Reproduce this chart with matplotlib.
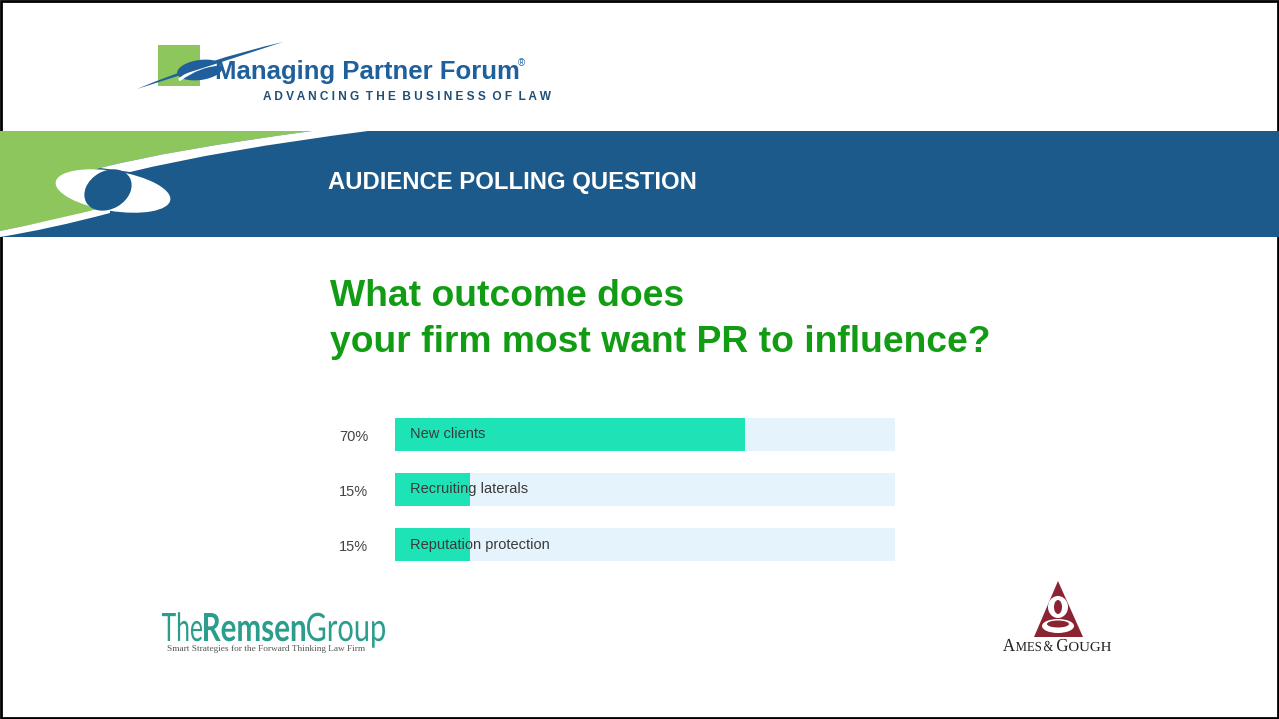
import matplotlib.pyplot as plt
from matplotlib.patches import Rectangle, Ellipse, PathPatch, Polygon
from matplotlib.path import Path
from matplotlib.textpath import TextPath
from matplotlib.font_manager import FontProperties
from matplotlib.transforms import Affine2D

plt.rcParams['font.family'] = ['Liberation Sans', 'DejaVu Sans']

# poll results
answers = ['New clients', 'Recruiting laterals', 'Reputation protection']
shares = [70, 15, 15]
pct_labels = ['70%', '15%', '15%']

title_lines = ['What outcome does', 'your firm most want PR to influence?']
header = 'AUDIENCE POLLING QUESTION'

BLUE = '#1b5a8a'
LOGO_BLUE = '#1f5f9c'
GREEN = '#8cc65c'
TITLE_GREEN = '#129c14'
TEAL = '#1ee3b6'
TRACK = '#e4f3fc'
MAROON = '#8a2433'
REMSEN = '#2a9d8c'
SERIF = ['Liberation Serif', 'DejaVu Serif']

W, H = 1279, 719
fig = plt.figure(figsize=(W / 100, H / 100), dpi=100)
bg = fig.add_axes([0, 0, 1, 1])
bg.set_xlim(0, W)
bg.set_ylim(H, 0)
bg.axis('off')

C3 = Path.CURVE3


def shape(points, codes, color):
    bg.add_patch(PathPatch(Path(points, codes), fc=color, lw=0))


def word(s, x0, x1, base, cap, color, **font):
    """Glyph outline of s squeezed into [x0, x1] with the given cap height."""
    prop = FontProperties(**font)
    tp = TextPath((0, 0), s, size=100, prop=prop)
    ref = TextPath((0, 0), 'H', size=100, prop=prop).get_extents()
    ext = tp.get_extents()
    tr = (Affine2D().translate(-ext.x0, 0)
          .scale((x1 - x0) / ext.width, -cap / ref.height)
          .translate(x0, base))
    bg.add_patch(PathPatch(tr.transform_path(tp), fc=color, lw=0))


# slide frame
bg.add_patch(Rectangle((1, 1), W - 2, H - 2, fill=False, ec='black', lw=2))

# --- top logo ---
bg.add_patch(Rectangle((158, 45), 42, 41, color=GREEN, lw=0))
bg.add_patch(Ellipse((200, 70), 46, 20, angle=-8, color=LOGO_BLUE, lw=0))
bg.add_patch(PathPatch(Path([(179, 80), (200, 64), (224, 64)],
                            [Path.MOVETO, C3, C3]),
                       fc='none', ec='white', lw=2.2))
shape([(137, 89), (205, 60), (283, 42), (210, 66), (137, 89)],
      [Path.MOVETO, C3, C3, C3, C3], LOGO_BLUE)
bg.text(215, 72, 'Managing Partner Forum', color=LOGO_BLUE, fontsize=18.5,
        fontweight='bold', va='center', ha='left')
bg.text(518, 63, '®', color=LOGO_BLUE, fontsize=7, va='center', ha='left')
bg.text(263, 97, '  '.join(' '.join(w) for w in 'ADVANCING THE BUSINESS OF LAW'.split()),
        color='#1f4e79', fontsize=8.6, fontweight='bold', va='center', ha='left')

# --- banner with the swoosh ---
bg.add_patch(Rectangle((0, 131), W, 106, color=BLUE, lw=0))
shape([(0, 131), (312, 131), (170, 150), (100, 168), (60, 182), (110, 208),
       (50, 221), (0, 231), (0, 131)],
      [Path.MOVETO, Path.LINETO, C3, C3, Path.LINETO, Path.LINETO, C3, C3,
       Path.CLOSEPOLY], GREEN)
# upper white band
shape([(312, 131), (170, 150), (100, 168), (130, 172), (220, 150), (368, 131), (312, 131)],
      [Path.MOVETO, C3, C3, Path.LINETO, C3, C3, Path.CLOSEPOLY], 'white')
# lower white tail
shape([(0, 231), (50, 221), (110, 206), (110, 213), (50, 229), (0, 237), (0, 231)],
      [Path.MOVETO, C3, C3, Path.LINETO, C3, C3, Path.CLOSEPOLY], 'white')
bg.add_patch(Ellipse((113, 191), 116, 40, angle=9, color='white', lw=0))
bg.add_patch(Ellipse((108, 190), 50, 38, angle=-30, color=BLUE, lw=0))
bg.text(328, 182, header, color='white', fontsize=17.2, fontweight='bold',
        va='center', ha='left')

# --- question ---
bg.text(330, 297, title_lines[0], color=TITLE_GREEN, fontsize=26.8,
        fontweight='bold', va='center', ha='left')
bg.text(330, 343, title_lines[1], color=TITLE_GREEN, fontsize=26.8,
        fontweight='bold', va='center', ha='left')

# --- poll bars ---
ax = fig.add_axes([395 / W, 1 - 561 / H, 500 / W, 143 / H])
rows = range(len(answers))
ax.barh(rows, [100] * len(answers), height=0.6, color=TRACK, lw=0)
ax.barh(rows, shares, height=0.6, color=TEAL, lw=0)
for i, (name, lab) in enumerate(zip(answers, pct_labels)):
    ax.text(3, i, name, color='#3a3a3a', fontsize=10.5, va='center', ha='left')
    ax.text(-5.4, i + 0.05, lab, color='#444444', fontsize=10.5, va='center',
            ha='right', clip_on=False)
ax.set_xlim(0, 100)
ax.set_ylim(len(answers) - 0.7, -0.3)
ax.axis('off')

# --- The Remsen Group ---
word('The', 162, 202, 641, 28, REMSEN, family='Lato', weight='normal')
word('Remsen', 204, 305, 641, 28, REMSEN, family='Lato', weight='bold')
word('Group', 307, 385, 641, 28, REMSEN, family='Lato', weight='normal')
bg.text(167, 649, 'Smart Strategies for the Forward Thinking Law Firm',
        color='#555555', fontsize=6.7, family=SERIF, ha='left', va='center')

# --- Ames & Gough ---
bg.add_patch(Polygon([(1058, 581), (1034, 637), (1083, 637)], closed=True,
                     color=MAROON, lw=0))
bg.add_patch(Ellipse((1058, 607), 20, 22, color='white', lw=0))
bg.add_patch(Ellipse((1058, 607), 8, 14, color=MAROON, lw=0))
bg.add_patch(Ellipse((1058, 626), 32, 14, color='white', lw=0))
bg.add_patch(Ellipse((1058, 624), 22, 7, color=MAROON, lw=0))
for s, x0, x1, cap in [('A', 1003, 1015, 12), ('MES', 1016, 1041, 9),
                       ('&', 1044, 1053, 10), ('G', 1057, 1068, 12),
                       ('OUGH', 1069, 1111, 9)]:
    word(s, x0, x1, 651, cap, '#222222', family='Liberation Serif')

fig.savefig('out.png', dpi=100)
